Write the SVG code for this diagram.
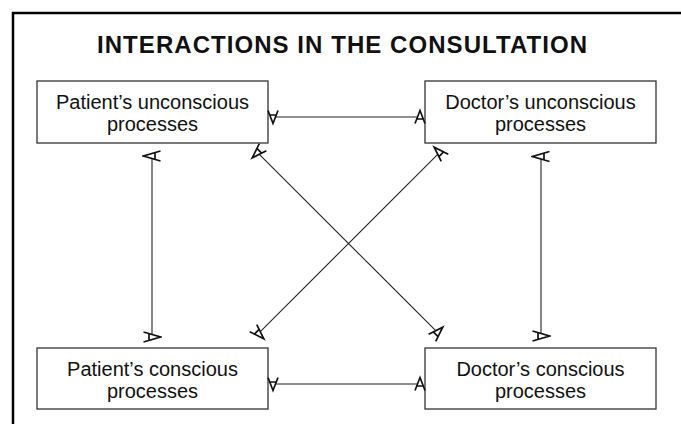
<svg xmlns="http://www.w3.org/2000/svg" width="681" height="424" viewBox="0 0 681 424">
  <style>
    .frame { fill: none; stroke: #000; stroke-width: 2.5; }
    .box { fill: #fff; stroke: #333; stroke-width: 1.3; }
    .label { font-family: "Liberation Sans", Arial, sans-serif; font-size: 20px; fill: #111; text-anchor: middle; }
    .title { font-family: "Liberation Sans", Arial, sans-serif; font-size: 24px; font-weight: bold; fill: #111; text-anchor: middle; }
    .link { stroke: #222; stroke-width: 1.1; fill: none; }
    .head { fill: none; stroke: #111; stroke-width: 1.7; stroke-linejoin: miter; }
  </style>
  <defs>
    <!-- "A"-shaped arrowheads; the reference point sits on the back leg where the line meets it -->
    <marker id="ahH" markerUnits="userSpaceOnUse" viewBox="-10 -10 20 20" markerWidth="20" markerHeight="20" refX="0" refY="0" orient="auto">
      <path class="head" d="M-2.5,6.5 L2.5,-6.5 L7.5,6.5 M-0.8,2 L5.8,2"/>
    </marker>
    <marker id="ahHs" markerUnits="userSpaceOnUse" viewBox="-10 -10 20 20" markerWidth="20" markerHeight="20" refX="0" refY="0" orient="auto-start-reverse">
      <path class="head" d="M-2.5,6.5 L2.5,-6.5 L7.5,6.5 M-0.8,2 L5.8,2"/>
    </marker>
    <marker id="ahV" markerUnits="userSpaceOnUse" viewBox="-10 -10 20 20" markerWidth="20" markerHeight="20" refX="0" refY="0" orient="auto">
      <path class="head" d="M-2.5,8.5 L2.5,-8.5 L7.5,8.5 M-0.9,3 L5.9,3"/>
    </marker>
    <marker id="ahVs" markerUnits="userSpaceOnUse" viewBox="-10 -10 20 20" markerWidth="20" markerHeight="20" refX="0" refY="0" orient="auto-start-reverse">
      <path class="head" d="M-2.5,8.5 L2.5,-8.5 L7.5,8.5 M-0.9,3 L5.9,3"/>
    </marker>
    <marker id="ahD" markerUnits="userSpaceOnUse" viewBox="-10 -10 20 20" markerWidth="20" markerHeight="20" refX="0" refY="0" orient="auto">
      <path class="head" d="M-2.5,7.5 L2.5,-7.5 L7.5,7.5 M-0.8,2.5 L5.8,2.5"/>
    </marker>
    <marker id="ahDs" markerUnits="userSpaceOnUse" viewBox="-10 -10 20 20" markerWidth="20" markerHeight="20" refX="0" refY="0" orient="auto-start-reverse">
      <path class="head" d="M-2.5,7.5 L2.5,-7.5 L7.5,7.5 M-0.8,2.5 L5.8,2.5"/>
    </marker>
  </defs>

  <rect width="681" height="424" fill="#fff"/>
  <!-- outer frame runs off the right and bottom edges -->
  <rect class="frame" x="13" y="13" width="700" height="450"/>

  <text class="title" x="342" y="53" textLength="490" lengthAdjust="spacing">INTERACTIONS IN THE CONSULTATION</text>

  <g id="patient-unconscious">
    <rect class="box" x="37" y="81" width="231" height="62"/>
    <text class="label" x="152.5" y="109">Patient’s unconscious</text>
    <text class="label" x="152.5" y="131">processes</text>
  </g>
  <g id="doctor-unconscious">
    <rect class="box" x="425" y="81" width="231" height="62"/>
    <text class="label" x="540.5" y="109">Doctor’s unconscious</text>
    <text class="label" x="540.5" y="131">processes</text>
  </g>
  <g id="patient-conscious">
    <rect class="box" x="37" y="348" width="231" height="61"/>
    <text class="label" x="152.5" y="376">Patient’s conscious</text>
    <text class="label" x="152.5" y="398">processes</text>
  </g>
  <g id="doctor-conscious">
    <rect class="box" x="425" y="348" width="231" height="61"/>
    <text class="label" x="540.5" y="376">Doctor’s conscious</text>
    <text class="label" x="540.5" y="398">processes</text>
  </g>

  <g id="connectors">
    <!-- horizontal links -->
    <line class="link" x1="275.5" y1="117" x2="417.5" y2="117" marker-start="url(#ahHs)" marker-end="url(#ahH)"/>
    <line class="link" x1="275.5" y1="384" x2="417.5" y2="384" marker-start="url(#ahHs)" marker-end="url(#ahH)"/>
    <!-- vertical links -->
    <line class="link" x1="152" y1="158.5" x2="152" y2="334.5" marker-start="url(#ahVs)" marker-end="url(#ahV)"/>
    <line class="link" x1="541" y1="159" x2="541" y2="333.5" marker-start="url(#ahVs)" marker-end="url(#ahV)"/>
    <!-- diagonal links -->
    <line class="link" x1="259.3" y1="154.3" x2="435.7" y2="330.7" marker-start="url(#ahDs)" marker-end="url(#ahD)"/>
    <line class="link" x1="437.7" y1="154.3" x2="260.3" y2="331.7" marker-start="url(#ahDs)" marker-end="url(#ahD)"/>
  </g>
</svg>
